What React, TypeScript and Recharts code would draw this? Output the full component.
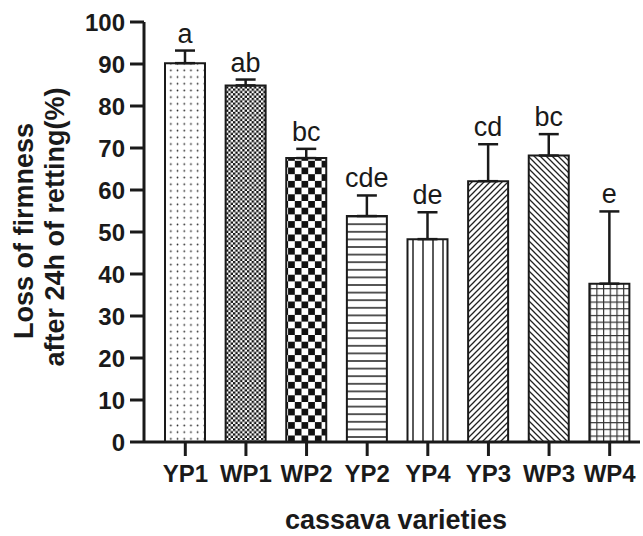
import React from 'react';
import { BarChart, Bar, XAxis, YAxis, ErrorBar, Cell, LabelList } from 'recharts';

const categories = ['YP1', 'WP1', 'WP2', 'YP2', 'YP4', 'YP3', 'WP3', 'WP4'];
const means = [90.2, 84.9, 67.6, 53.8, 48.3, 62.1, 68.2, 37.7];
const errors = [3.0, 1.4, 2.2, 4.9, 6.4, 8.8, 5.1, 17.2];
const letters = ['a', 'ab', 'bc', 'cde', 'de', 'cd', 'bc', 'e'];
const yTicks = [0, 10, 20, 30, 40, 50, 60, 70, 80, 90, 100];
const patternIds = ['dots', 'fineCheck', 'bigCheck', 'hLines', 'vLines', 'diagUp', 'diagDown', 'grid'];

const data = categories.map((c, i) => ({
  name: c,
  value: means[i],
  err: [0, errors[i]],
  letter: letters[i],
}));

const FONT = 'Liberation Sans, Arial, Helvetica, sans-serif';
const INK = '#1a1a1a';

const Patterns = () => (
  <svg width={0} height={0} style={{ position: 'absolute' }}>
    <defs>
      <pattern id="dots" width={6.7} height={6.7} patternUnits="userSpaceOnUse">
        <rect width={6.7} height={6.7} fill="#fff" />
        <circle cx={3.35} cy={3.35} r={0.85} fill="#222" />
      </pattern>
      <pattern id="fineCheck" width={4.66} height={4.66} patternUnits="userSpaceOnUse">
        <rect width={4.66} height={4.66} fill="#fff" />
        <rect x={0} y={0} width={2.33} height={2.33} fill="#111" />
        <rect x={2.33} y={2.33} width={2.33} height={2.33} fill="#111" />
      </pattern>
      <pattern id="bigCheck" width={13.4} height={13.4} patternUnits="userSpaceOnUse">
        <rect width={13.4} height={13.4} fill="#fff" />
        <rect x={0} y={0} width={6.7} height={6.7} fill="#111" />
        <rect x={6.7} y={6.7} width={6.7} height={6.7} fill="#111" />
      </pattern>
      <pattern id="hLines" width={10} height={7.6} patternUnits="userSpaceOnUse">
        <rect width={10} height={7.6} fill="#fff" />
        <line x1={0} y1={3.8} x2={10} y2={3.8} stroke="#222" strokeWidth={1.5} />
      </pattern>
      <pattern id="vLines" width={10} height={10} patternUnits="userSpaceOnUse">
        <rect width={10} height={10} fill="#fff" />
        <line x1={3} y1={0} x2={3} y2={10} stroke="#222" strokeWidth={1.5} />
      </pattern>
      <pattern id="diagUp" width={6} height={6} patternUnits="userSpaceOnUse">
        <rect width={6} height={6} fill="#fff" />
        <path d="M0,6 L6,0 M-1.5,1.5 L1.5,-1.5 M4.5,7.5 L7.5,4.5" stroke="#222" strokeWidth={1.3} />
      </pattern>
      <pattern id="diagDown" width={6} height={6} patternUnits="userSpaceOnUse">
        <rect width={6} height={6} fill="#fff" />
        <path d="M0,0 L6,6 M-1.5,4.5 L1.5,7.5 M4.5,-1.5 L7.5,1.5" stroke="#222" strokeWidth={1.3} />
      </pattern>
      <pattern id="grid" width={6.7} height={6.7} patternUnits="userSpaceOnUse">
        <rect width={6.7} height={6.7} fill="#fff" />
        <line x1={0.6} y1={0} x2={0.6} y2={6.7} stroke="#333" strokeWidth={1.2} />
        <line x1={0} y1={0.6} x2={6.7} y2={0.6} stroke="#333" strokeWidth={1.2} />
      </pattern>
    </defs>
  </svg>
);

const renderLetter = (props: any) => {
  const { x, y, width, height, index, value } = props;
  const i = typeof index === 'number' ? index : letters.indexOf(value);
  const pxPerUnit = Number(height) / means[i];
  const top = Number(y) - errors[i] * pxPerUnit - 8;
  return (
    <text
      x={Number(x) + Number(width) / 2}
      y={top}
      textAnchor="middle"
      fontFamily={FONT}
      fontSize={27}
      fill={INK}
    >
      {letters[i]}
    </text>
  );
};

const YTitle = () => (
  <g>
    <text
      transform="translate(33, 231) rotate(-90)"
      textAnchor="middle"
      fontFamily={FONT}
      fontWeight="bold"
      fontSize={27}
      fill={INK}
    >
      Loss of firmness
    </text>
    <text
      transform="translate(64, 227) rotate(-90)"
      textAnchor="middle"
      fontFamily={FONT}
      fontWeight="bold"
      fontSize={27}
      fill={INK}
    >
      after 24h of retting(%)
    </text>
  </g>
);

const XTitle = () => (
  <text x={396} y={529} textAnchor="middle" fontFamily={FONT} fontWeight="bold" fontSize={27} fill={INK}>
    cassava varieties
  </text>
);

export default function App() {
  return (
    <div style={{ position: 'absolute', left: 0, top: 0, width: 643, height: 536, background: '#fff' }}>
      <Patterns />
      <BarChart
        width={643}
        height={536}
        data={data}
        margin={{ top: 22, right: 3, bottom: 64, left: 0 }}
        barSize={40}
      >
        <XAxis
          dataKey="name"
          height={30}
          padding={{ left: 11, right: 0 }}
          interval={0}
          tickSize={14}
          tickMargin={9}
          axisLine={{ stroke: INK, strokeWidth: 3 }}
          tickLine={{ stroke: INK, strokeWidth: 3 }}
          tick={{ fontSize: 24, fontWeight: 'bold', fill: INK, fontFamily: FONT }}
          label={{ content: () => <XTitle /> }}
        />
        <YAxis
          width={144}
          domain={[0, 100]}
          ticks={yTicks}
          interval={0}
          allowDataOverflow
          tickSize={14}
          tickMargin={5}
          axisLine={{ stroke: INK, strokeWidth: 3 }}
          tickLine={{ stroke: INK, strokeWidth: 3 }}
          tick={{ fontSize: 24, fontWeight: 'bold', fill: INK, fontFamily: FONT }}
          label={{ content: () => <YTitle /> }}
        />
        <Bar dataKey="value" isAnimationActive={false} stroke={INK} strokeWidth={2}>
          {data.map((d, i) => (
            <Cell key={d.name} fill={`url(#${patternIds[i]})`} />
          ))}
          <ErrorBar dataKey="err" width={10} stroke={INK} strokeWidth={2.5} direction="y" isAnimationActive={false} />
          <LabelList dataKey="letter" content={renderLetter} />
        </Bar>
      </BarChart>
    </div>
  );
}
